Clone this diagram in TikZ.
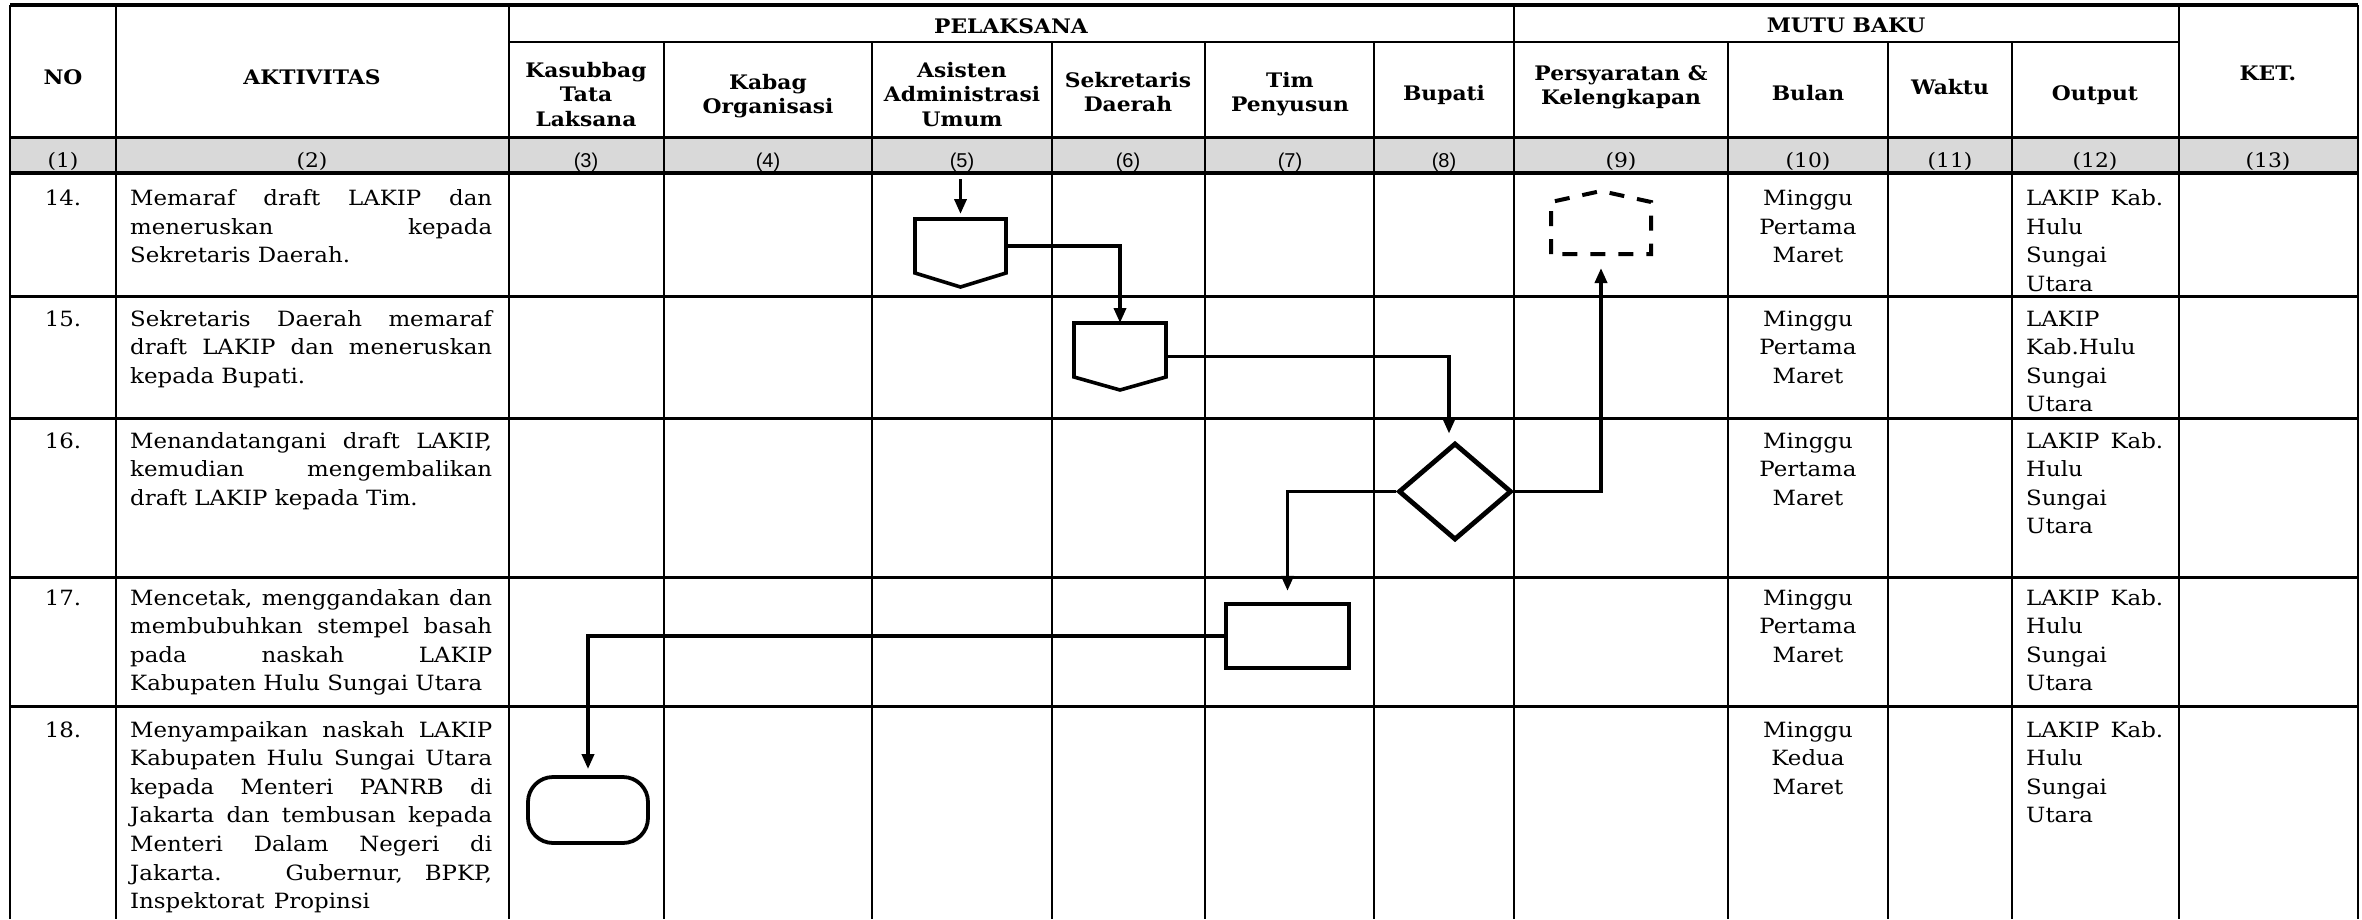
\documentclass[tikz,border=0pt]{standalone}
\usepackage{fontspec}
\setmainfont[FakeStretch=1.09]{DejaVu Serif}
\setsansfont{Liberation Sans}
\usetikzlibrary{arrows.meta,shapes.geometric,calc}
\newcommand{\jline}[2]{\makebox[#1][s]{#2}}
\begin{document}
\begin{tikzpicture}[x=1pt,y=-1pt,
  gridv/.style={line width=2.3pt},
  gridh/.style={line width=3pt},
  hdr/.style={font=\bfseries\fontsize{20}{24.7}\selectfont, inner sep=0pt, anchor=base},
  body/.style={font=\fontsize{21}{28.6}\selectfont, inner sep=0pt, anchor=base west},
  bodyc/.style={font=\fontsize{21}{28.6}\selectfont, inner sep=0pt, anchor=base},
  colno/.style={font=\fontsize{20}{24}\selectfont, inner sep=0pt, anchor=base},
  colnos/.style={font=\sffamily\fontsize{20}{24}\selectfont, inner sep=0pt, anchor=base},
  ghost/.style={draw=none, inner sep=0pt, outer sep=0pt},
  conn/.style={line width=3.6pt, -{Triangle[length=15pt,width=12pt]}},
  shp/.style={line width=3.6pt, line join=miter},
]
\definecolor{greyrow}{HTML}{D9D9D9}
\useasboundingbox (0,0) rectangle (2362,919);
\fill[white] (0,0) rectangle (2362,919);
% grey numbering row
\fill[greyrow] (10,137) rectangle (2358,173);
% horizontal lines
\draw[line width=3.5pt] (10,5) -- (2358,5);
\draw[gridv] (509,42) -- (2180,42);
\draw[gridh] (10,137) -- (2358,137);
\draw[line width=3.5pt] (10,173) -- (2358,173);
\foreach \yy in {296,418,577,706} \draw[gridh] (10,\yy) -- (2358,\yy);
% vertical lines
\foreach \xx in {10,116,509,1514,2179,2358} \draw[gridv] (\xx,5) -- (\xx,919);
\foreach \xx in {664,872,1052,1205,1374,1728,1888,2012} \draw[gridv] (\xx,42) -- (\xx,919);

% header texts
\node[hdr] (hNO) at (63,84) {NO};
\node[hdr] (hAK) at (312,84) {AKTIVITAS};
\node[hdr] (hPEL) at (1011,33) {PELAKSANA};
\node[hdr] (hMB) at (1846,32) {MUTU BAKU};
\node[hdr] (h3) at (586,77) {\parbox[t]{170pt}{\centering Kasubbag\\Tata\\Laksana}};
\node[hdr] (h4) at (768,89) {\parbox[t]{200pt}{\centering Kabag\\Organisasi}};
\node[hdr] (h5) at (962,77) {\parbox[t]{200pt}{\centering Asisten\\Administrasi\\Umum}};
\node[hdr] (h6) at (1128,87) {\parbox[t]{200pt}{\centering Sekretaris\\Daerah}};
\node[hdr] (h7) at (1290,87) {\parbox[t]{200pt}{\centering Tim\\Penyusun}};
\node[hdr] (h8) at (1444,100) {Bupati};
\node[hdr] (h9) at (1621,80) {\parbox[t]{230pt}{\centering Persyaratan \&\\Kelengkapan}};
\node[hdr] (h10) at (1808,100) {Bulan};
\node[hdr] (h11) at (1950,94) {Waktu};
\node[hdr] (h12) at (2095,100) {Output};
\node[hdr] (h13) at (2268,80) {KET.};

% column numbers
\node[colno] (n1) at (63,167) {(1)};
\node[colno] (n2) at (312,167) {(2)};
\node[colnos] (n3) at (586,167) {(3)};
\node[colnos] (n4) at (768,167) {(4)};
\node[colnos] (n5) at (962,167) {(5)};
\node[colnos] (n6) at (1128,167) {(6)};
\node[colnos] (n7) at (1290,167) {(7)};
\node[colnos] (n8) at (1444,167) {(8)};
\node[colno] (n9) at (1621,167) {(9)};
\node[colno] (n10) at (1808,167) {(10)};
\node[colno] (n11) at (1950,167) {(11)};
\node[colno] (n12) at (2095,167) {(12)};
\node[colno] (n13) at (2268,167) {(13)};

% row numbers
\node[bodyc] (r14) at (63,205.5) {14.};
\node[bodyc] (r15) at (63,326) {15.};
\node[bodyc] (r16) at (63,448) {16.};
\node[bodyc] (r17) at (63,605) {17.};
\node[bodyc] (r18) at (63,737) {18.};

% activities
\node[body] (a14) at (130,205.5) {\parbox[t]{362pt}{\jline{362pt}{Memaraf draft LAKIP dan}\\\jline{362pt}{meneruskan kepada}\\Sekretaris Daerah.}};
\node[body] (a15) at (130,326) {\parbox[t]{362pt}{\jline{362pt}{Sekretaris Daerah memaraf}\\\jline{362pt}{draft LAKIP dan meneruskan}\\kepada Bupati.}};
\node[body] (a16) at (130,448) {\parbox[t]{362pt}{\jline{362pt}{Menandatangani draft LAKIP,}\\\jline{362pt}{kemudian mengembalikan}\\draft LAKIP kepada Tim.}};
\node[body] (a17) at (130,605) {\parbox[t]{362pt}{\jline{362pt}{Mencetak, menggandakan dan}\\\jline{362pt}{membubuhkan stempel basah}\\\jline{362pt}{pada naskah LAKIP}\\Kabupaten Hulu Sungai Utara}};
\node[body] (a18) at (130,737) {\parbox[t]{362pt}{\jline{362pt}{Menyampaikan naskah LAKIP}\\\jline{362pt}{Kabupaten Hulu Sungai Utara}\\\jline{362pt}{kepada Menteri PANRB di}\\\jline{362pt}{Jakarta dan tembusan kepada}\\\jline{362pt}{Menteri Dalam Negeri di}\\\jline{362pt}{Jakarta. \ Gubernur, BPKP,}\\Inspektorat\hspace{0.45em}Propinsi}};

% Bulan
\node[bodyc] (b14) at (1808,205.5) {\parbox[t]{150pt}{\centering Minggu\\Pertama\\Maret}};
\node[bodyc] (b15) at (1808,326) {\parbox[t]{150pt}{\centering Minggu\\Pertama\\Maret}};
\node[bodyc] (b16) at (1808,448) {\parbox[t]{150pt}{\centering Minggu\\Pertama\\Maret}};
\node[bodyc] (b17) at (1808,605) {\parbox[t]{150pt}{\centering Minggu\\Pertama\\Maret}};
\node[bodyc] (b18) at (1808,737) {\parbox[t]{150pt}{\centering Minggu\\Kedua\\Maret}};

% Output
\node[body] (o14) at (2026,205.5) {\parbox[t]{145pt}{\jline{137pt}{LAKIP Kab.}\\Hulu\\Sungai\\Utara}};
\node[body] (o15) at (2026,326) {\parbox[t]{145pt}{LAKIP\\Kab.Hulu\\Sungai\\Utara}};
\node[body] (o16) at (2026,448) {\parbox[t]{145pt}{\jline{137pt}{LAKIP Kab.}\\Hulu\\Sungai\\Utara}};
\node[body] (o17) at (2026,605) {\parbox[t]{145pt}{\jline{137pt}{LAKIP Kab.}\\Hulu\\Sungai\\Utara}};
\node[body] (o18) at (2026,737) {\parbox[t]{145pt}{\jline{137pt}{LAKIP Kab.}\\Hulu\\Sungai\\Utara}};

% flowchart symbols
\node[ghost, minimum width=91pt, minimum height=68pt] (p14) at (960.5,253) {};
\draw[shp] (p14.north west) -- (p14.north east) -- ([yshift=14pt]p14.south east) -- (p14.south) -- ([yshift=14pt]p14.south west) -- cycle;
\node[ghost, minimum width=92pt, minimum height=67pt] (p15) at (1120,356.5) {};
\draw[shp] (p15.north west) -- (p15.north east) -- ([yshift=13pt]p15.south east) -- (p15.south) -- ([yshift=13pt]p15.south west) -- cycle;
\node[diamond, draw, line width=4.8pt, minimum width=113pt, minimum height=97pt, inner sep=0pt] (dia) at (1455,491.5) {};
\node[ghost, minimum width=100pt, minimum height=63pt] (doc) at (1601,222.5) {};
\draw[line width=4pt, dash pattern=on 15pt off 13pt] (doc.south west) -- ([yshift=-11pt]doc.north west) -- (doc.north) -- ([yshift=-11pt]doc.north east) -- (doc.south east) -- cycle;
\node[draw, line width=4.2pt, minimum width=123pt, minimum height=64pt, inner sep=0pt] (box) at (1287.5,636) {};
\node[draw, line width=3.8pt, rounded corners=25pt, minimum width=120pt, minimum height=66pt, inner sep=0pt] (term) at (588,810) {};

% connectors
\coordinate (start) at (960.5,179);
\draw[conn, shorten >=5pt] (start) -- (p14.north);
\draw[conn] ([yshift=7pt]p14.east) -| (p15.north);
\draw[conn, shorten >=7pt] (p15.east) -| ([xshift=-6pt]dia.north);
\draw[conn, shorten >=14pt] (dia.east) -| (doc.south);
\draw[conn, shorten >=11pt] (dia.west) -| (box.north);
\draw[conn, shorten >=6pt] (box.west) -| (term.north);
\end{tikzpicture}
\end{document}
